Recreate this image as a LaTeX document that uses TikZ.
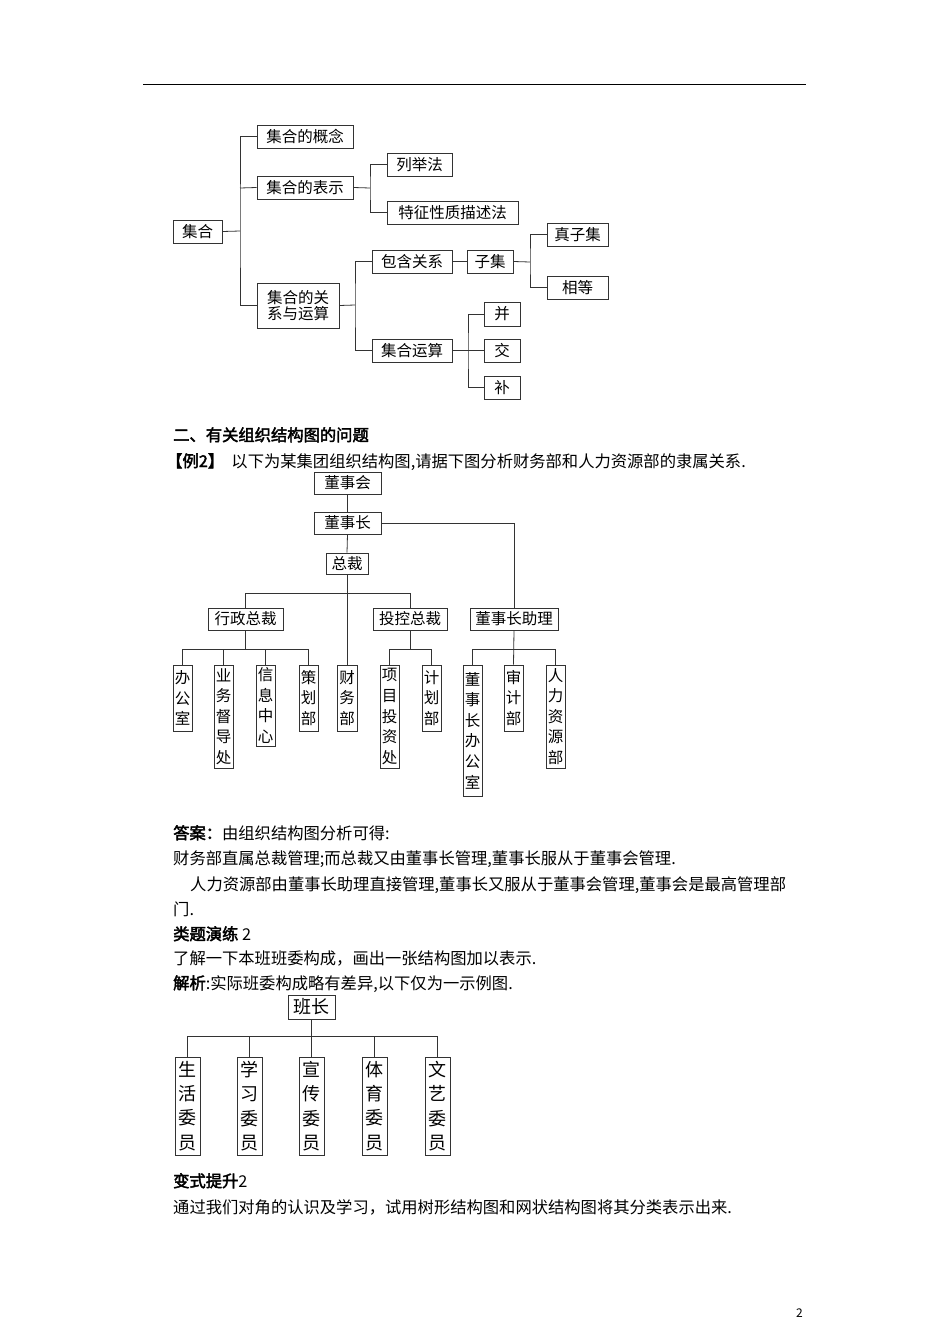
\documentclass[tikz,border=0pt]{standalone}
\usepackage{fontspec}
\setmainfont{Noto Sans CJK SC}[AutoFakeBold=2.5]
\begin{document}
\begin{tikzpicture}[x=1pt,y=-1pt,
  ln/.style={line width=0.8pt,draw=black!80},
  bx/.style={draw=black!80,line width=0.8pt,inner sep=0pt,font=\fontsize{15.5}{17}\selectfont},
  vb/.style={bx,align=center,font=\fontsize{15.5}{20.6}\selectfont},
  vc/.style={bx,align=center,font=\fontsize{18}{24.3}\selectfont},
  tx/.style={anchor=base west,inner sep=0pt,font=\fontsize{16.3}{18}\selectfont}]
\newcommand\bx[7][bx]{\node[#1,minimum width={#5-#3},minimum height={#6-#4}] (#2) at ({(#3+#5)/2},{(#4+#6)/2}) {#7};}
\useasboundingbox (0,0) rectangle (950,1344);
\fill[white] (0,0) rectangle (950,1344);
\draw[line width=0.8pt] (143,84) -- (806,84);
% ---- diagram 1
\bx{jh}{173}{220}{222}{243}{集合}
\bx{gn}{257}{125}{353}{148}{集合的概念}
\bx{bs}{257}{176}{353}{199}{集合的表示}
\bx[vb]{gx}{257}{283}{339}{328}{集合的关\\[-4pt]系与运算}
\bx{lj}{387}{153}{452}{176}{列举法}
\bx{tz}{387}{201}{518}{224}{特征性质描述法}
\bx{bh}{372}{250}{452}{273}{包含关系}
\bx{jy}{372}{339}{452}{362}{集合运算}
\bx{zj}{467}{250}{513}{273}{子集}
\bx{zz}{547}{223}{608}{246}{真子集}
\bx{xd}{547}{276}{608}{299}{相等}
\bx{bing}{484}{302}{520}{326}{并}
\bx{jiao}{484}{339}{520}{362}{交}
\bx{bu}{484}{376}{520}{399}{补}
\draw[ln] (jh.east) -- (240,231);
\draw[ln] (gn.west) -| (240,231) |- (gx.west);
\draw[ln] (bs.west) -- (240,188);
\draw[ln] (bs.east) -- (370,188);
\draw[ln] (lj.west) -| (370,188) |- (tz.west);
\draw[ln] (gx.east) -- (355,305);
\draw[ln] (bh.west) -| (355,305) |- (jy.west);
\draw[ln] (bh.east) -- (zj.west);
\draw[ln] (zj.east) -- (530,262);
\draw[ln] (zz.west) -| (530,262) |- (xd.west);
\draw[ln] (jy.east) -- (jiao.west);
\draw[ln] (bing.west) -| (468,351) |- (bu.west);
% ---- text
\node[tx,font=\fontsize{16.3}{18}\selectfont\bfseries] (h2) at (173,441) {二、有关组织结构图的问题};
\node[tx] (ex2) at (166,467) {\textbf{【例2】}\ \ 以下为某集团组织结构图,请据下图分析财务部和人力资源部的隶属关系.};
% ---- diagram 2
\bx{dsh}{314}{472}{381}{494}{董事会}
\bx{dsz}{314}{512}{381}{534}{董事长}
\bx{zc}{326}{553}{368}{574}{总裁}
\bx{xz}{208}{608}{283}{630}{行政总裁}
\bx{tk}{373}{608}{447}{630}{投控总裁}
\bx{zl}{470}{608}{558}{630}{董事长助理}
\bx[vb]{bgs}{173}{665}{192}{731}{办\\公\\室}
\bx[vb]{yw}{214}{665}{233}{768}{业\\务\\督\\导\\处}
\bx[vb]{xx}{256}{665}{275}{746}{信\\息\\中\\心}
\bx[vb]{ch}{299}{665}{318}{731}{策\\划\\部}
\bx[vb]{cw}{337}{665}{357}{731}{财\\务\\部}
\bx[vb]{xm}{380}{665}{399}{768}{项\\目\\投\\资\\处}
\bx[vb]{jh2}{422}{665}{441}{731}{计\\划\\部}
\bx[vb]{dsb}{463}{665}{482}{796}{董\\事\\长\\办\\公\\室}
\bx[vb]{sj}{504}{665}{523}{731}{审\\计\\部}
\bx[vb]{rl}{546}{665}{565}{768}{人\\力\\资\\源\\部}
\draw[ln] (dsh.south) -- (dsz.north);
\draw[ln] (dsz.south) -- (zc.north);
\draw[ln] (zc.south) -- (cw.north);
\draw[ln] (xz.north) -- ++(0,-14) -| (tk.north);
\draw[ln] (dsz.east) -| (zl.north);
\draw[ln] (bgs.north) -- ++(0,-15) -| (ch.north);
\draw[ln] (xz.south) -- (xz.south |- 0,650);
\draw[ln] (yw.north) -- (yw.north |- 0,650);
\draw[ln] (xx.north) -- (xx.north |- 0,650);
\draw[ln] (xm.north) -- ++(0,-15) -| (jh2.north);
\draw[ln] (tk.south) -- (tk.south |- 0,650);
\draw[ln] (dsb.north) -- ++(0,-15) -| (rl.north);
\draw[ln] (zl.south) -- (sj.north);
% ---- text
\node[tx] (da) at (173,839) {\textbf{答案：}由组织结构图分析可得:};
\node[tx] (l1) at (173,864) {财务部直属总裁管理;而总裁又由董事长管理,董事长服从于董事会管理.};
\node[tx] (l2) at (190,890) {人力资源部由董事长助理直接管理,董事长又服从于董事会管理,董事会是最高管理部};
\node[tx] (l3) at (173,915) {门.};
\node[tx] (lt) at (173,940) {\textbf{类题演练} 2};
\node[tx] (l4) at (173,964) {了解一下本班班委构成，画出一张结构图加以表示.};
\node[tx] (l5) at (173,989) {\textbf{解析}:实际班委构成略有差异,以下仅为一示例图.};
% ---- diagram 3
\bx[bx,font=\fontsize{18}{20}\selectfont]{bz}{288}{995}{335}{1019}{班长}
\bx[vc]{c1}{175}{1057}{200}{1155}{生\\活\\委\\员}
\bx[vc]{c2}{237}{1057}{262}{1155}{学\\习\\委\\员}
\bx[vc]{c3}{299}{1057}{324}{1155}{宣\\传\\委\\员}
\bx[vc]{c4}{362}{1057}{387}{1155}{体\\育\\委\\员}
\bx[vc]{c5}{425}{1057}{450}{1155}{文\\艺\\委\\员}
\draw[ln] (c1.north) -- ++(0,-20) -| (c5.north);
\draw[ln] (bz.south) -- (c3.north);
\draw[ln] (c2.north) -- ++(0,-20);
\draw[ln] (c4.north) -- ++(0,-20);
\node[tx] (bs2) at (173,1187) {\textbf{变式提升}2};
\node[tx] (l6) at (173,1213) {通过我们对角的认识及学习，试用树形结构图和网状结构图将其分类表示出来.};
\node[tx,font=\fontsize{12}{14}\selectfont] (pg) at (796,1317) {2};
\end{tikzpicture}
\end{document}
